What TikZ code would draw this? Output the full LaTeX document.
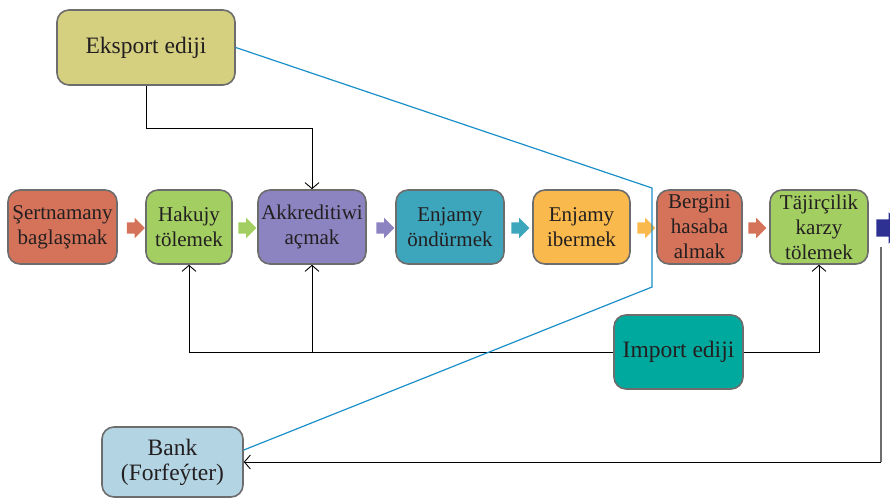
\documentclass[tikz,border=0pt]{standalone}
\usepackage{fontspec}
\setmainfont{Liberation Serif}
\usetikzlibrary{shapes.arrows,arrows.meta,calc}
\definecolor{cterra}{HTML}{D4735A}
\definecolor{cgreen}{HTML}{A3CF62}
\definecolor{cpurple}{HTML}{8B84C0}
\definecolor{cteal}{HTML}{3DA6BC}
\definecolor{corange}{HTML}{F9B94D}
\definecolor{ckhaki}{HTML}{D5CF80}
\definecolor{cimport}{HTML}{00A99D}
\definecolor{cbank}{HTML}{B3D4E3}
\definecolor{cnavy}{HTML}{2E3192}
\definecolor{cblue}{HTML}{1A8FC8}
\definecolor{cborder}{HTML}{6D6D6D}
\definecolor{ctext}{HTML}{231F20}
\tikzset{
  box/.style={draw=cborder, line width=1.6pt, rounded corners=12pt, align=center,
    inner sep=0pt, text=ctext},
  procbox/.style={box, minimum height=74pt, font=\fontsize{21}{25}\selectfont},
  bigbox/.style={box, font=\fontsize{23.5}{25}\selectfont},
  blockarrow/.style={single arrow, draw=none, inner sep=5.5pt, minimum height=18pt,
    single arrow head extend=4.5pt, anchor=center},
  conn/.style={draw=black, line width=0.9pt},
  arr/.style={conn, -{Straight Barb[length=6pt,width=14pt,line width=0.9pt]}},
  blueline/.style={draw=cblue, line width=1.2pt},
}
\begin{document}
\begin{tikzpicture}[x=1pt,y=-1pt]
\useasboundingbox (0,0) rectangle (890,498);
\begin{scope}
\clip (0,0) rectangle (890,498);
% process boxes
\node[procbox, fill=cterra,  minimum width=109pt] (s1) at (62.5,227) {Şertnamany\\baglaşmak};
\node[procbox, fill=cgreen,  minimum width=86pt]  (s2) at (189,227) {Hakujy\\tölemek};
\node[procbox, fill=cpurple, minimum width=108pt] (s3) at (312,227) {Akkreditiwi\\açmak};
\node[procbox, fill=cteal,   minimum width=108pt] (s4) at (450,227) {Enjamy\\öndürmek};
\node[procbox, fill=corange, minimum width=97pt]  (s5) at (581.5,227) {Enjamy\\ibermek};
\node[procbox, fill=cterra,  minimum width=85pt]  (s6) at (699.5,227) {Bergini\\hasaba\\almak};
\node[procbox, fill=cgreen,  minimum width=98pt]  (s7) at (819,227) {Täjirçilik\\karzy\\tölemek};
% block arrows
\node[blockarrow, fill=cterra]  (a1) at (133,228) {};
\node[blockarrow, fill=cgreen]  (a2) at (244.5,228) {};
\node[blockarrow, fill=cpurple] (a3) at (382.5,228) {};
\node[blockarrow, fill=cteal]   (a4) at (517.5,228) {};
\node[blockarrow, fill=corange] (a5) at (643.5,228) {};
\node[blockarrow, fill=cterra]  (a6) at (754.5,228) {};
\node[single arrow, draw=none, fill=cnavy, inner sep=8.5pt, minimum height=28pt,
  single arrow head extend=7pt] (a7) at (886,228) {};
% other boxes
\node[bigbox, fill=ckhaki,  minimum width=178pt, minimum height=75pt] (eks) at (146,47.5) {Eksport ediji};
\node[bigbox, fill=cimport, minimum width=129pt, minimum height=74pt] (imp) at (678.5,352) {Import ediji};
\node[bigbox, fill=cbank,   minimum width=141pt, minimum height=70pt] (bank) at (172.5,462) {Bank\\(Forfeýter)};
% connectors
\coordinate (e1) at (146,128);
\coordinate (e2) at (312,128);
\draw[arr] (eks.south) -- (e1) -- (e2) -- (s3.north);
\coordinate (i1) at (189,352);
\coordinate (i2) at (312,352);
\draw[arr] (imp.west) -- (i1) -- (s2.south);
\draw[arr] (i2) -- (s3.south);
\coordinate (i3) at (819,352);
\draw[arr] (imp.east) -- (i3) -- (s7.south);
\coordinate (r1) at (881,247);
\coordinate (r2) at (881,462);
\draw[draw=cborder, line width=1.5pt] (r1) -- (r2);
\draw[arr] (r2) -- (bank.east);
% blue line
\coordinate (b1) at (652,188);
\coordinate (b2) at (652,287);
\coordinate (bankin) at ($(bank.east)+(0,-12)$);
\draw[blueline] (eks.east) -- (b1) -- (b2) -- (bankin);
\end{scope}
\end{tikzpicture}
\end{document}
